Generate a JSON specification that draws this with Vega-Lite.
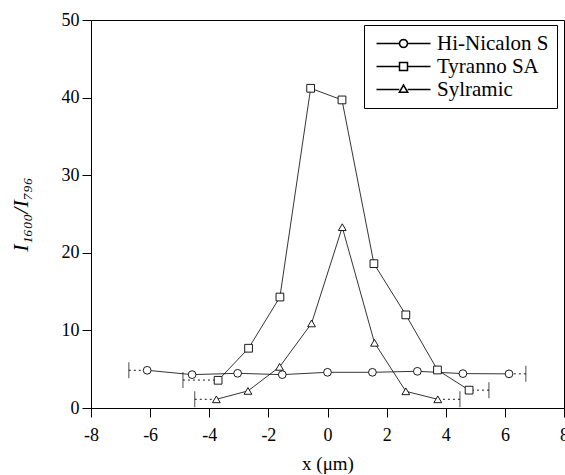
{
  "$schema": "https://vega.github.io/schema/vega-lite/v6.json",
  "width": 473,
  "height": 388,
  "autosize": "none",
  "padding": {"left": 91, "top": 20, "right": 1, "bottom": 67},
  "background": "white",
  "config": {
    "view": {"stroke": "black", "strokeWidth": 1},
    "axis": {
      "domainColor": "black",
      "tickColor": "black",
      "labelColor": "black",
      "titleColor": "black",
      "labelFont": "Liberation Serif",
      "titleFont": "Liberation Serif",
      "labelFontSize": 18,
      "grid": false
    }
  },
  "datasets": {
    "pts": [
      {"series": "Hi-Nicalon S", "x": -6.1, "y": 4.86},
      {"series": "Hi-Nicalon S", "x": -4.58, "y": 4.3},
      {"series": "Hi-Nicalon S", "x": -3.04, "y": 4.47},
      {"series": "Hi-Nicalon S", "x": -1.53, "y": 4.3},
      {"series": "Hi-Nicalon S", "x": 0.0, "y": 4.6},
      {"series": "Hi-Nicalon S", "x": 1.52, "y": 4.6},
      {"series": "Hi-Nicalon S", "x": 3.04, "y": 4.73},
      {"series": "Hi-Nicalon S", "x": 4.58, "y": 4.43},
      {"series": "Hi-Nicalon S", "x": 6.14, "y": 4.4},
      {"series": "Tyranno SA", "x": -3.7, "y": 3.57},
      {"series": "Tyranno SA", "x": -2.67, "y": 7.7},
      {"series": "Tyranno SA", "x": -1.61, "y": 14.3},
      {"series": "Tyranno SA", "x": -0.57, "y": 41.2},
      {"series": "Tyranno SA", "x": 0.49, "y": 39.7},
      {"series": "Tyranno SA", "x": 1.57, "y": 18.6},
      {"series": "Tyranno SA", "x": 2.65, "y": 12.0},
      {"series": "Tyranno SA", "x": 3.72, "y": 4.9},
      {"series": "Tyranno SA", "x": 4.79, "y": 2.3},
      {"series": "Sylramic", "x": -3.76, "y": 1.12},
      {"series": "Sylramic", "x": -2.69, "y": 2.2},
      {"series": "Sylramic", "x": -1.62, "y": 5.3},
      {"series": "Sylramic", "x": -0.54, "y": 10.9},
      {"series": "Sylramic", "x": 0.5, "y": 23.3},
      {"series": "Sylramic", "x": 1.59, "y": 8.4},
      {"series": "Sylramic", "x": 2.65, "y": 2.15},
      {"series": "Sylramic", "x": 3.73, "y": 1.12}
    ],
    "caps": [
      {"series": "Hi-Nicalon S", "xcap": -6.72, "xend": -6.1, "y": 4.86},
      {"series": "Hi-Nicalon S", "xcap": 6.71, "xend": 6.14, "y": 4.4},
      {"series": "Tyranno SA", "xcap": -4.89, "xend": -3.7, "y": 3.6},
      {"series": "Tyranno SA", "xcap": 5.46, "xend": 4.79, "y": 2.3},
      {"series": "Sylramic", "xcap": -4.49, "xend": -3.76, "y": 1.12},
      {"series": "Sylramic", "xcap": 4.48, "xend": 3.73, "y": 1.12}
    ]
  },
  "resolve": {"scale": {"shape": "independent"}},
  "layer": [
    {
      "data": {"name": "caps"},
      "mark": {"type": "rule", "strokeDash": [2, 3], "color": "black", "strokeWidth": 0.9},
      "encoding": {
        "x": {"field": "xcap", "type": "quantitative", "scale": {"domain": [-8, 8], "nice": false}},
        "x2": {"field": "xend"},
        "y": {"field": "y", "type": "quantitative", "scale": {"domain": [0, 50], "nice": false}}
      }
    },
    {
      "data": {"name": "caps"},
      "mark": {"type": "tick", "orient": "vertical", "size": 16, "thickness": 1, "color": "black"},
      "encoding": {
        "x": {"field": "xcap", "type": "quantitative"},
        "y": {"field": "y", "type": "quantitative"}
      }
    },
    {
      "data": {"name": "pts"},
      "mark": {"type": "line", "color": "black", "strokeWidth": 0.8},
      "encoding": {
        "x": {
          "field": "x", "type": "quantitative",
          "axis": {
            "values": [-8,-7.5,-7,-6.5,-6,-5.5,-5,-4.5,-4,-3.5,-3,-2.5,-2,-1.5,-1,-0.5,0,0.5,1,1.5,2,2.5,3,3.5,4,4.5,5,5.5,6,6.5,7,7.5,8],
            "labelExpr": "datum.value % 2 === 0 ? toString(datum.value) : ''",
            "tickSize": {"condition": {"test": "datum.value % 2 === 0", "value": 9}, "value": 5},
            "labelPadding": 9,
            "labelFlush": false,
            "labelOverlap": false,
            "title": "x (μm)",
            "titleFontSize": 19,
            "titleFontWeight": "normal",
            "titleX": 236.5,
            "titleY": 55,
            "titleBaseline": "middle"
          }
        },
        "y": {
          "field": "y", "type": "quantitative",
          "axis": {
            "values": [0,2.5,5,7.5,10,12.5,15,17.5,20,22.5,25,27.5,30,32.5,35,37.5,40,42.5,45,47.5,50],
            "labelExpr": "datum.value % 10 === 0 ? toString(datum.value) : ''",
            "tickSize": {"condition": {"test": "datum.value % 10 === 0", "value": 9}, "value": 5},
            "labelPadding": 3,
            "labelFlush": false,
            "labelOverlap": false,
            "title": "I₁₆₀₀/I₇₉₆",
            "titleFontSize": 22,
            "titleFontStyle": "italic",
            "titleFontWeight": "normal",
            "titleX": -71,
            "titleY": 194,
            "titleAngle": -90,
            "titleBaseline": "middle",
            "titleAlign": "center"
          }
        },
        "detail": {"field": "series"}
      }
    },
    {
      "data": {"name": "pts"},
      "mark": {"type": "point", "filled": false, "fill": "white", "stroke": "black", "strokeWidth": 0.9, "size": 60, "opacity": 1},
      "encoding": {
        "x": {"field": "x", "type": "quantitative"},
        "y": {"field": "y", "type": "quantitative"},
        "shape": {
          "field": "series", "type": "nominal",
          "scale": {"domain": ["Hi-Nicalon S", "Tyranno SA", "Sylramic"], "range": ["circle", "square", "triangle-up"]},
          "legend": null
        }
      }
    },
    {
      "data": {"name": "pts"},
      "transform": [{"filter": "datum.x > 100"}],
      "mark": {"type": "point", "filled": false, "fill": "white", "stroke": "black", "strokeWidth": 0.8, "size": 64},
      "encoding": {
        "x": {"field": "x", "type": "quantitative"},
        "y": {"field": "y", "type": "quantitative"},
        "shape": {
          "field": "series", "type": "nominal",
          "scale": {
            "domain": ["Hi-Nicalon S", "Tyranno SA", "Sylramic"],
            "range": [
              "M-1.5,0L4.25,0M6.25,0L12,0M6.25,0L6.12,0.5L5.75,0.87L5.25,1L4.75,0.87L4.38,0.5L4.25,0L4.38,-0.5L4.75,-0.87L5.25,-1L5.75,-0.87L6.12,-0.5Z",
              "M-1.5,0L4.25,0M6.25,0L12,0M4.25,-1L6.25,-1L6.25,1L4.25,1Z",
              "M-1.5,0L4.2,0M6.3,0L12,0M4.2,0.7L5.25,-1.1L6.3,0.7Z"
            ]
          },
          "legend": {
            "title": null,
            "orient": "none",
            "legendX": 273,
            "legendY": 5,
            "strokeColor": "black",
            "fillColor": "white",
            "padding": 8,
            "labelFont": "Liberation Serif",
            "labelFontSize": 21,
            "labelColor": "black",
            "labelOffset": 44,
            "rowPadding": 1,
            "symbolSize": 64,
            "symbolOpacity": 1
          }
        }
      }
    }
  ]
}
